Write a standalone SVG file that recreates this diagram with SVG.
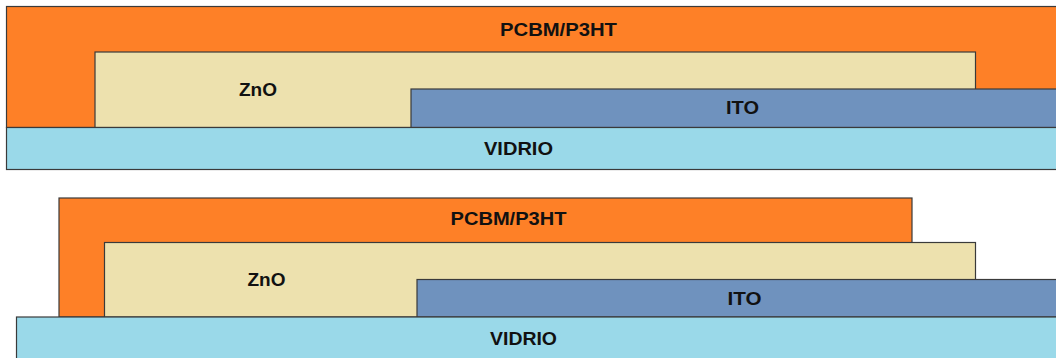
<svg xmlns="http://www.w3.org/2000/svg" width="1056" height="358" viewBox="0 0 1056 358">
  <style>
    .layer { stroke: #3a3a3a; stroke-width: 1.2; }
    .pcbm { fill: #fe8027; }
    .zno { fill: #ede1ae; }
    .ito { fill: #6f92be; }
    .glass { fill: #9ad9e9; }
    text { font-family: "Liberation Sans", Arial, sans-serif; font-weight: bold; font-size: 19px; fill: #111; text-anchor: middle; }
  </style>

  <!-- Stack A: ZnO extends beyond the active layer edge -->
  <g id="stackA">
    <g id="a-pcbm">
      <rect class="layer pcbm" x="6.5" y="6.5" width="1060" height="121"/>
      <text x="558.5" y="36" textLength="117" lengthAdjust="spacingAndGlyphs">PCBM/P3HT</text>
    </g>
    <g id="a-zno">
      <rect class="layer zno" x="95" y="52" width="880.5" height="75.5"/>
      <text x="258" y="96">ZnO</text>
    </g>
    <g id="a-ito">
      <rect class="layer ito" x="411" y="89" width="660" height="38.5"/>
      <text x="742.5" y="114" textLength="33" lengthAdjust="spacingAndGlyphs">ITO</text>
    </g>
    <g id="a-vidrio">
      <rect class="layer glass" x="6.5" y="127.5" width="1060" height="42"/>
      <text x="518.5" y="155" textLength="69" lengthAdjust="spacingAndGlyphs">VIDRIO</text>
    </g>
  </g>

  <!-- Stack B: active layer set back from the ZnO edge -->
  <g id="stackB">
    <g id="b-pcbm">
      <rect class="layer pcbm" x="59" y="198" width="853" height="119"/>
      <text x="508.5" y="225" textLength="116" lengthAdjust="spacingAndGlyphs">PCBM/P3HT</text>
    </g>
    <g id="b-zno">
      <rect class="layer zno" x="104.5" y="242.5" width="871" height="74.5"/>
      <text x="266.5" y="286">ZnO</text>
    </g>
    <g id="b-ito">
      <rect class="layer ito" x="417" y="279.5" width="660" height="37.5"/>
      <text x="744.5" y="305" textLength="34" lengthAdjust="spacingAndGlyphs">ITO</text>
    </g>
    <g id="b-vidrio">
      <rect class="layer glass" x="16.5" y="317" width="1060" height="50"/>
      <text x="523.5" y="345" textLength="67" lengthAdjust="spacingAndGlyphs">VIDRIO</text>
    </g>
  </g>

  <!-- no connectors in this cross-section -->
  <g id="connectors"/>
</svg>
